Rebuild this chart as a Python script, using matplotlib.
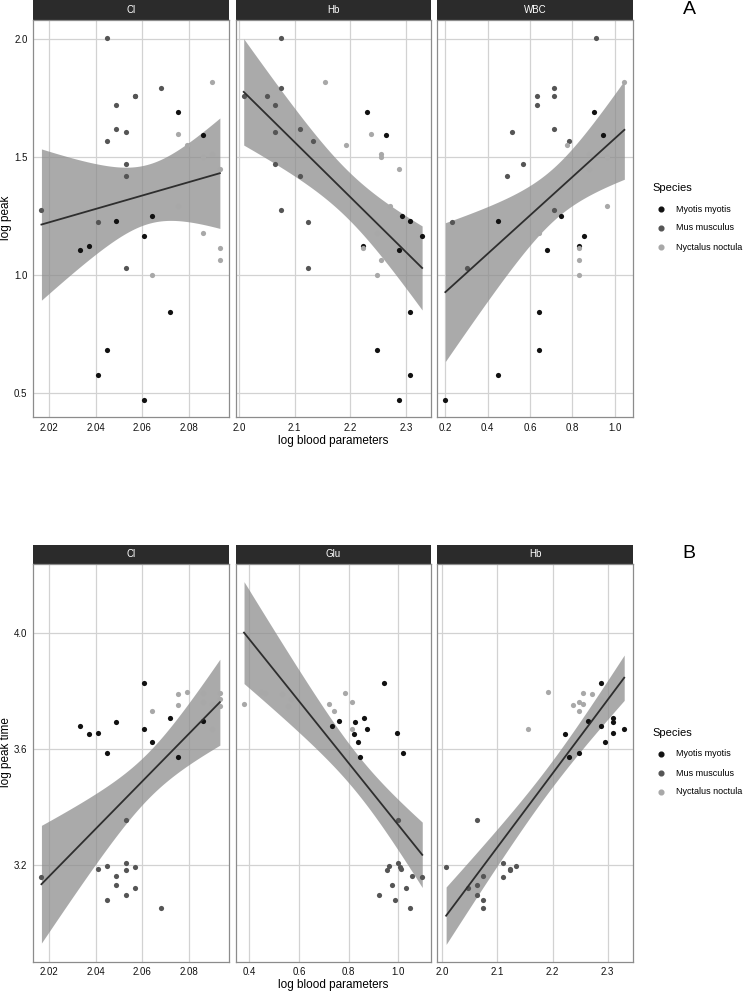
import numpy as np
import matplotlib
matplotlib.use('Agg')
import matplotlib.pyplot as plt

plt.rcParams['font.family'] = ['Liberation Sans', 'DejaVu Sans']

SPECIES = ['Myotis myotis', 'Mus musculus', 'Nyctalus noctula']
COLORS = ['#111111', '#555555', '#a8a8a8']

# ---- figure A: log peak ----
A_CL_X = [2.0333, 2.0372, 2.0412, 2.0451, 2.0489, 2.0605, 2.0605, 2.0643, 2.0717, 2.0754, 2.0861,
          2.0169, 2.0412, 2.0451, 2.0451, 2.0489, 2.0489, 2.0529, 2.0529, 2.0529, 2.0529, 2.0568, 2.0568, 2.068,
          2.0643, 2.0754, 2.0754, 2.0791, 2.0861, 2.0861, 2.0897, 2.0897, 2.0931, 2.0931, 2.0931]
A_CL_Y = [1.103, 1.120, 0.573, 0.681, 1.229, 1.165, 0.469, 1.251, 0.842, 1.691, 1.593,
          1.275, 1.222, 2.004, 1.566, 1.720, 1.619, 1.606, 1.469, 1.418, 1.027, 1.757, 1.756, 1.791,
          1.0, 1.595, 1.291, 1.549, 1.499, 1.179, 1.815, 1.510, 1.448, 1.114, 1.064]
A_CL_SP = [0] * 11 + [1] * 13 + [2] * 11

A_HB_X = [2.2222, 2.230, 2.2473, 2.264, 2.2868, 2.2868, 2.2934, 2.308, 2.308, 2.308, 2.329,
          2.0084, 2.0497, 2.0647, 2.0647, 2.0647, 2.0754, 2.0754, 2.0754, 2.110, 2.110, 2.124, 2.124, 2.1335,
          2.155, 2.1928, 2.2377, 2.2473, 2.2473, 2.255, 2.255, 2.255, 2.271, 2.2868, 2.222]
A_HB_Y = [1.120, 1.691, 0.681, 1.593, 1.103, 0.469, 1.251, 1.229, 0.842, 0.573, 1.165,
          1.756, 1.757, 1.720, 1.606, 1.469, 2.004, 1.791, 1.275, 1.619, 1.418, 1.222, 1.027, 1.566,
          1.815, 1.549, 1.595, 1.179, 1.0, 1.510, 1.499, 1.064, 1.291, 1.448, 1.114]
A_HB_SP = [0] * 11 + [1] * 13 + [2] * 11

A_WBC_X = [0.200, 0.447, 0.447, 0.6425, 0.6425, 0.680, 0.748, 0.831, 0.855, 0.902, 0.943,
           0.230, 0.301, 0.490, 0.5165, 0.567, 0.633, 0.633, 0.715, 0.715, 0.715, 0.715, 0.783, 0.912,
           0.6425, 0.776, 0.831, 0.831, 0.831, 0.880, 0.880, 0.962, 0.962, 1.0315, 1.0457]
A_WBC_Y = [0.469, 1.229, 0.573, 0.842, 0.681, 1.103, 1.251, 1.120, 1.165, 1.691, 1.593,
           1.222, 1.027, 1.418, 1.606, 1.469, 1.756, 1.720, 1.791, 1.757, 1.619, 1.275, 1.566, 2.004,
           1.179, 1.549, 1.114, 1.064, 1.0, 1.510, 1.448, 1.499, 1.291, 1.595, 1.815]
A_WBC_SP = [0] * 11 + [1] * 13 + [2] * 11

# ---- figure B: log peak time ----
B_CL_X = [2.0333, 2.0372, 2.0412, 2.0451, 2.0489, 2.0605, 2.0605, 2.0643, 2.0717, 2.0754, 2.0861,
          2.0169, 2.0412, 2.0451, 2.0451, 2.0489, 2.0489, 2.0529, 2.0529, 2.0529, 2.0529, 2.0568, 2.0568, 2.068,
          2.0643, 2.0754, 2.0754, 2.0791, 2.0861, 2.0861, 2.0897, 2.0897, 2.0931, 2.0931, 2.0931]
B_CL_Y = [3.680, 3.653, 3.654, 3.587, 3.693, 3.826, 3.668, 3.624, 3.705, 3.574, 3.697,
          3.161, 3.187, 3.198, 3.080, 3.162, 3.131, 3.355, 3.208, 3.183, 3.098, 3.194, 3.124, 3.052,
          3.732, 3.790, 3.752, 3.795, 3.793, 3.760, 3.754, 3.668, 3.793, 3.772, 3.748]
B_CL_SP = [0] * 11 + [1] * 13 + [2] * 11

B_GLU_X = [0.7315, 0.7624, 0.820, 0.8255, 0.8376, 0.8456, 0.863, 0.875, 0.9436, 0.996, 1.020,
           0.9235, 0.953, 0.9638, 0.973, 0.9866, 1.0, 1.0, 1.0094, 1.0295, 1.047, 1.0537, 1.0966, 1.005,
           0.3785, 0.4456, 0.4617, 0.530, 0.5557, 0.5664, 0.722, 0.7396, 0.785, 0.8134, 0.8134]
B_GLU_Y = [3.680, 3.697, 3.653, 3.693, 3.624, 3.574, 3.705, 3.668, 3.826, 3.654, 3.587,
           3.098, 3.183, 3.198, 3.131, 3.080, 3.355, 3.208, 3.187, 3.124, 3.052, 3.162, 3.161, 3.194,
           3.755, 3.795, 3.793, 3.790, 3.748, 3.772, 3.754, 3.732, 3.793, 3.760, 3.668]
B_GLU_SP = [0] * 11 + [1] * 13 + [2] * 11

B_HB_X = [2.2227, 2.2305, 2.248, 2.2643, 2.288, 2.288, 2.295, 2.3097, 2.3097, 2.3097, 2.330,
          2.007, 2.0474, 2.0637, 2.0637, 2.0637, 2.0746, 2.0746, 2.0746, 2.1097, 2.1097, 2.123, 2.123, 2.1332,
          2.155, 2.1924, 2.2378, 2.248, 2.248, 2.2553, 2.2553, 2.2716, 2.288, 2.295]
B_HB_Y = [3.653, 3.574, 3.587, 3.697, 3.826, 3.680, 3.624, 3.705, 3.693, 3.654, 3.668,
          3.194, 3.124, 3.355, 3.131, 3.098, 3.162, 3.080, 3.052, 3.208, 3.161, 3.183, 3.187, 3.198,
          3.668, 3.795, 3.752, 3.760, 3.732, 3.754, 3.793, 3.790, 3.772, 3.748]
B_HB_SP = [0] * 11 + [1] * 13 + [2] * 10

W, H = 747, 992


def px_axes(fig, x0, y0, x1, y1):
    return fig.add_axes([x0 / W, 1 - y1 / H, (x1 - x0) / W, (y1 - y0) / H])


def t975(df):
    try:
        from scipy import stats
        return stats.t.ppf(0.975, df)
    except Exception:
        return 1.96 + 2.4 / df


def lm_band(x, y):
    # linear fit with 95% confidence band, like geom_smooth(method = "lm")
    x = np.asarray(x)
    y = np.asarray(y)
    n = len(x)
    b, a = np.polyfit(x, y, 1)
    resid = y - (a + b * x)
    s = np.sqrt(np.sum(resid ** 2) / (n - 2))
    xs = np.linspace(x.min(), x.max(), 80)
    se = s * np.sqrt(1 / n + (xs - x.mean()) ** 2 / np.sum((x - x.mean()) ** 2))
    fit = a + b * xs
    tq = t975(n - 2)
    return xs, fit, fit - tq * se, fit + tq * se


def facet(fig, x0, x1, top, bottom, title, xs, ys, sp, xlim, ylim, xticks, xlabels, yticks, ylabels):
    strip = px_axes(fig, x0, top, x1, top + 19.5)
    strip.set_facecolor('#2b2b2b')
    strip.set_xticks([])
    strip.set_yticks([])
    for s in strip.spines.values():
        s.set_visible(False)
    strip.text(0.5, 0.5, title, color='white', ha='center', va='center', fontsize=7,
               transform=strip.transAxes)

    ax = px_axes(fig, x0, top + 19.5, x1, bottom)
    ax.set_xlim(*xlim)
    ax.set_ylim(*ylim)
    ax.set_xticks(xticks)
    ax.set_xticklabels(xlabels)
    ax.set_yticks(yticks)
    if ylabels is None:
        ax.set_yticklabels([])
    else:
        ax.set_yticklabels(ylabels)
    ax.tick_params(length=0, labelsize=7, colors='#111111', pad=4)
    ax.grid(True, color='#d2d2d2', linewidth=0.9)
    ax.set_axisbelow(True)
    for s in ax.spines.values():
        s.set_color('#8c8c8c')
        s.set_linewidth(0.9)

    gx, fit, lo, hi = lm_band(xs, ys)
    ax.fill_between(gx, lo, hi, color='#8a8a8a', alpha=0.72, linewidth=0, zorder=2)
    xs = np.asarray(xs)
    ys = np.asarray(ys)
    sp = np.asarray(sp)
    for k in range(3):
        m = sp == k
        ax.scatter(xs[m], ys[m], s=14, color=COLORS[k], linewidths=0, zorder=3)
    ax.plot(gx, fit, color='#2e2e2e', linewidth=1.3, zorder=4)
    return ax


def legend(fig, y_title):
    fig.text(652 / W, 1 - y_title / H, 'Species', fontsize=8, ha='left', va='center')
    for k, name in enumerate(SPECIES):
        yy = y_title + 21 + k * 19
        fig.text(676 / W, 1 - yy / H, name, fontsize=6.5, ha='left', va='center')
        fig.add_artist(plt.Line2D([661 / W], [1 - yy / H], marker='o', markersize=3.4,
                                  color=COLORS[k], linestyle='none', transform=fig.transFigure))


fig = plt.figure(figsize=(W / 100, H / 100), dpi=100)

cols = [(33, 229), (235.7, 431.3), (437.3, 633.3)]
a_ylim = (0.397, 2.082)
a_yt = [0.5, 1.0, 1.5, 2.0]
a_yl = ['0.5', '1.0', '1.5', '2.0']
facet(fig, *cols[0], 0, 417, 'Cl', A_CL_X, A_CL_Y, A_CL_SP, (2.0133, 2.097), a_ylim,
      [2.02, 2.04, 2.06, 2.08], ['2.02', '2.04', '2.06', '2.08'], a_yt, a_yl)
facet(fig, *cols[1], 0, 417, 'Hb', A_HB_X, A_HB_Y, A_HB_SP, (1.994, 2.3455), a_ylim,
      [2.0, 2.1, 2.2, 2.3], ['2.0', '2.1', '2.2', '2.3'], a_yt, None)
facet(fig, *cols[2], 0, 417, 'WBC', A_WBC_X, A_WBC_Y, A_WBC_SP, (0.162, 1.088), a_ylim,
      [0.2, 0.4, 0.6, 0.8, 1.0], ['0.2', '0.4', '0.6', '0.8', '1.0'], a_yt, None)

b_ylim = (2.869, 4.236)
b_yt = [3.2, 3.6, 4.0]
b_yl = ['3.2', '3.6', '4.0']
facet(fig, *cols[0], 544.5, 961.7, 'Cl', B_CL_X, B_CL_Y, B_CL_SP, (2.0133, 2.097), b_ylim,
      [2.02, 2.04, 2.06, 2.08], ['2.02', '2.04', '2.06', '2.08'], b_yt, b_yl)
facet(fig, *cols[1], 544.5, 961.7, 'Glu', B_GLU_X, B_GLU_Y, B_GLU_SP, (0.345, 1.133), b_ylim,
      [0.4, 0.6, 0.8, 1.0], ['0.4', '0.6', '0.8', '1.0'], b_yt, None)
facet(fig, *cols[2], 544.5, 961.7, 'Hb', B_HB_X, B_HB_Y, B_HB_SP, (1.991, 2.3465), b_ylim,
      [2.0, 2.1, 2.2, 2.3], ['2.0', '2.1', '2.2', '2.3'], b_yt, None)

# axis titles
fig.text(333 / W, 1 - 441 / H, 'log blood parameters', fontsize=8.5, ha='center', va='center')
fig.text(333 / W, 1 - 985 / H, 'log blood parameters', fontsize=8.5, ha='center', va='center')
fig.text(6.5 / W, 1 - 218 / H, 'log peak', fontsize=8.5, rotation=90, ha='center', va='center')
fig.text(6.5 / W, 1 - 752 / H, 'log peak time', fontsize=8.5, rotation=90, ha='center', va='center')

legend(fig, 188)
legend(fig, 733)

fig.text(689 / W, 1 - 10 / H, 'A', fontsize=14, ha='center', va='center')
fig.text(689 / W, 1 - 553 / H, 'B', fontsize=14, ha='center', va='center')

fig.savefig('out.png', dpi=100)
